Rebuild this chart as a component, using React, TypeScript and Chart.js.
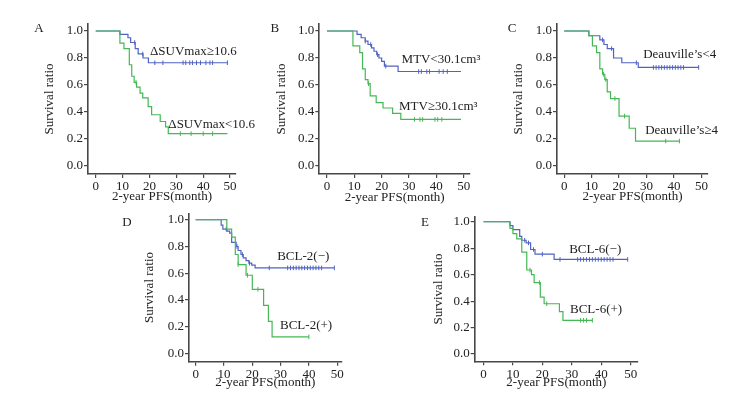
import React, { useEffect, useRef } from 'react';
import { Chart, registerables } from 'chart.js';

Chart.register(...registerables);

const FONT = '"Liberation Serif", "Times New Roman", serif';
const BLUE = '#4f63c2';
const GREEN = '#44b855';
const AXIS = '#474747';
const TEXT = '#222222';

const X_TICKS = [0, 10, 20, 30, 40, 50];
const Y_TICKS = [0, 0.2, 0.4, 0.6, 0.8, 1.0];
const X_TITLE = '2-year PFS(month)';
const Y_TITLE = 'Survival ratio';

// Panel A
const aHighT = [0, 9, 12, 13, 14.7, 15.8, 17.6, 19.6, 49];
const aHighS = [1, 0.975, 0.95, 0.915, 0.87, 0.83, 0.8, 0.765, 0.765];
const aHighCensor = [14.5, 17.5, 22, 25, 32.5, 33.5, 35, 36, 37.5, 39, 41, 42.5, 43.5, 49];
const aLowT = [0, 9, 10.5, 12.5, 13.4, 14.3, 15.2, 16.5, 17.5, 19.5, 20.8, 24, 26, 27, 49];
const aLowS = [1, 0.91, 0.87, 0.75, 0.665, 0.62, 0.585, 0.54, 0.505, 0.44, 0.38, 0.33, 0.29, 0.24, 0.24];
const aLowCensor = [15, 31.5, 35.5, 40, 43.5];

// Panel B
const bLowT = [0, 11, 12.5, 14, 15, 16.3, 17.2, 18.2, 19, 20, 21, 26, 49];
const bLowS = [1, 0.975, 0.95, 0.925, 0.9, 0.875, 0.85, 0.825, 0.8, 0.775, 0.74, 0.7, 0.7];
const bLowCensor = [14, 16, 18.5, 21.5, 33.5, 34.5, 36.5, 37.5, 41, 42.5, 44];
const bHighT = [0, 9.5, 12, 13, 14, 15, 15.8, 18, 20.5, 24, 27, 49];
const bHighS = [1, 0.89, 0.84, 0.72, 0.64, 0.61, 0.52, 0.47, 0.43, 0.39, 0.345, 0.345];
const bHighCensor = [15.2, 32, 34, 35, 39.5, 40.5, 42];

// Panel C
const cLowT = [0, 9, 13, 14.5, 15.7, 18, 21, 27, 49];
const cLowS = [1, 0.965, 0.935, 0.9, 0.87, 0.8, 0.765, 0.73, 0.73];
const cLowCensor = [14, 17.3, 26.3, 32.5, 33.5, 34.5, 35.5, 36.5, 37.5, 38.5, 39.5, 40.5, 41.5, 42.5, 43.5, 49];
const cHighT = [0, 9, 10.3, 11.8, 13, 14, 14.8, 15.7, 16.9, 20, 23.7, 26, 42];
const cHighS = [1, 0.965, 0.89, 0.84, 0.72, 0.68, 0.64, 0.55, 0.5, 0.37, 0.28, 0.185, 0.185];
const cHighCensor = [14.3, 15.2, 18.5, 22, 37, 42];

// Panel D
const dNegT = [0, 9, 9.6, 11, 12, 12.7, 14.3, 15, 16, 16.8, 17.8, 18.8, 19.8, 21, 49];
const dNegS = [1, 0.96, 0.93, 0.915, 0.9, 0.83, 0.8, 0.77, 0.74, 0.715, 0.695, 0.675, 0.66, 0.64, 0.64];
const dNegCensor = [10.8, 14.6, 16.5, 19, 26, 32.5, 33.5, 34.5, 35.5, 36.5, 37.5, 38.5, 39.5, 40.5, 41.5, 42.5, 43.5, 44.5, 49];
const dPosT = [0, 11, 12.7, 14, 15, 17.8, 20, 24, 25.7, 27, 40];
const dPosS = [1, 0.93, 0.87, 0.74, 0.665, 0.585, 0.48, 0.36, 0.24, 0.125, 0.125];
const dPosCensor = [15, 18.3, 22, 40];

// Panel E
const eNegT = [0, 9, 10, 12.3, 13, 14.5, 16, 17.5, 24, 49];
const eNegS = [1, 0.97, 0.94, 0.89, 0.86, 0.84, 0.79, 0.755, 0.715, 0.715];
const eNegCensor = [14, 15.3, 17, 20, 26, 32, 33, 34, 35, 36, 37, 38, 39, 40, 41, 42, 43, 44, 49];
const ePosT = [0, 9, 10, 11.3, 13, 14.7, 16.3, 17.2, 19.3, 20.6, 25.8, 27, 37];
const ePosS = [1, 0.95, 0.91, 0.87, 0.77, 0.635, 0.6, 0.54, 0.43, 0.38, 0.32, 0.255, 0.255];
const ePosCensor = [15.8, 19, 21.5, 33, 34, 35, 37];

type Series = { t: number[]; s: number[]; censor: number[]; color: string };
type Label = { text: string; x: number; y: number };
type Panel = {
  xMin: number; xMax: number; yMin: number; yMax: number;
  pad: { left: number; right: number; top: number; bottom: number };
  yW: number; xH: number;
  series: Series[];
  labels: Label[];
};

const PANELS: Panel[] = [
  {
    xMin: -2.87, xMax: 52.2, yMin: -0.059, yMax: 1.052,
    pad: { left: 42.2, right: 520, top: 24, bottom: 191.2 }, yW: 45.8, xH: 30.8,
    series: [
      { t: aLowT, s: aLowS, censor: aLowCensor, color: GREEN },
      { t: aHighT, s: aHighS, censor: aHighCensor, color: BLUE },
    ],
    labels: [
      { text: 'ΔSUVmax≥10.6', x: 20.2, y: 0.85 },
      { text: 'ΔSUVmax<10.6', x: 27, y: 0.307 },
    ],
  },
  {
    xMin: -2.8, xMax: 52.3, yMin: -0.059, yMax: 1.052,
    pad: { left: 273.9, right: 286, top: 24, bottom: 190.2 }, yW: 45.4, xH: 31.8,
    series: [
      { t: bHighT, s: bHighS, censor: bHighCensor, color: GREEN },
      { t: bLowT, s: bLowS, censor: bLowCensor, color: BLUE },
    ],
    labels: [
      { text: 'MTV<30.1cm³', x: 27.3, y: 0.79 },
      { text: 'MTV≥30.1cm³', x: 26.3, y: 0.444 },
    ],
  },
  {
    xMin: -2.6, xMax: 52.4, yMin: -0.059, yMax: 1.052,
    pad: { left: 510.5, right: 48, top: 24, bottom: 191.2 }, yW: 46.5, xH: 30.8,
    series: [
      { t: cHighT, s: cHighS, censor: cHighCensor, color: GREEN },
      { t: cLowT, s: cLowS, censor: cLowCensor, color: BLUE },
    ],
    labels: [
      { text: 'Deauville’s<4', x: 28.8, y: 0.825 },
      { text: 'Deauville’s≥4', x: 29.5, y: 0.259 },
    ],
  },
  {
    xMin: -2.37, xMax: 51.6, yMin: -0.061, yMax: 1.048,
    pad: { left: 142.2, right: 414.3, top: 213.3, bottom: 5.5 }, yW: 46.8, xH: 28.8,
    series: [
      { t: dPosT, s: dPosS, censor: dPosCensor, color: GREEN },
      { t: dNegT, s: dNegS, censor: dNegCensor, color: BLUE },
    ],
    labels: [
      { text: 'BCL-2(−)', x: 28.8, y: 0.723 },
      { text: 'BCL-2(+)', x: 29.8, y: 0.208 },
    ],
  },
  {
    xMin: -2.99, xMax: 52.5, yMin: -0.055, yMax: 1.038,
    pad: { left: 430.5, right: 118, top: 216.7, bottom: 5.5 }, yW: 44.2, xH: 29.2,
    series: [
      { t: ePosT, s: ePosS, censor: ePosCensor, color: GREEN },
      { t: eNegT, s: eNegS, censor: eNegCensor, color: BLUE },
    ],
    labels: [
      { text: 'BCL-6(−)', x: 29.1, y: 0.786 },
      { text: 'BCL-6(+)', x: 29.4, y: 0.338 },
    ],
  },
];

const LETTERS = [
  { text: 'A', left: 34.3, top: 19.5 },
  { text: 'B', left: 270.6, top: 19.5 },
  { text: 'C', left: 507.7, top: 19.5 },
  { text: 'D', left: 122.3, top: 213.5 },
  { text: 'E', left: 421, top: 214 },
];

function survAt(t: number[], s: number[], x: number): number {
  let v = s[0];
  for (let i = 0; i < t.length; i++) if (t[i] <= x) v = s[i];
  return v;
}

const kmLabels = {
  id: 'kmLabels',
  afterDatasetsDraw(chart: any, _args: any, opts: any) {
    const ctx = chart.ctx;
    const xs = chart.scales.x;
    const ys = chart.scales.y;
    ctx.save();
    ctx.font = `13px ${FONT}`;
    ctx.fillStyle = TEXT;
    ctx.textAlign = 'left';
    ctx.textBaseline = 'middle';
    for (const l of (opts.labels || []) as Label[]) {
      ctx.fillText(l.text, xs.getPixelForValue(l.x), ys.getPixelForValue(l.y));
    }
    ctx.restore();
  },
};

function KMPanel({ p }: { p: Panel }) {
  const ref = useRef<HTMLCanvasElement | null>(null);
  useEffect(() => {
    if (!ref.current) return;
    const datasets: any[] = [];
    for (const s of p.series) {
      datasets.push({
        data: s.t.map((x, i) => ({ x, y: s.s[i] })),
        showLine: true,
        stepped: true,
        borderColor: s.color,
        borderWidth: 1.2,
        pointRadius: 0,
        fill: false,
      });
      datasets.push({
        data: s.censor.map((x) => ({ x, y: survAt(s.t, s.s, x) })),
        showLine: false,
        pointStyle: 'line',
        rotation: 90,
        pointRadius: 2.3,
        pointBorderWidth: 1,
        pointBorderColor: s.color,
        pointBackgroundColor: s.color,
      });
    }
    const tickFont = { family: FONT, size: 13, lineHeight: 1.2 };
    const chart = new Chart(ref.current, {
      type: 'scatter',
      data: { datasets },
      plugins: [kmLabels],
      options: {
        responsive: false,
        animation: false,
        events: [],
        devicePixelRatio: 1,
        layout: { padding: p.pad },
        plugins: {
          legend: { display: false },
          tooltip: { enabled: false },
          kmLabels: { labels: p.labels },
        } as any,
        scales: {
          x: {
            type: 'linear',
            min: p.xMin,
            max: p.xMax,
            afterBuildTicks: (sc: any) => { sc.ticks = X_TICKS.map((v) => ({ value: v })); },
            afterFit: (sc: any) => { sc.height = p.xH; },
            grid: { display: true, drawOnChartArea: false, drawTicks: true, tickLength: 4, color: AXIS, lineWidth: 1.2 },
            border: { display: true, color: AXIS, width: 1.6 },
            ticks: { color: TEXT, font: tickFont, padding: 1, maxRotation: 0, autoSkip: false, callback: (v: any) => String(v) },
            title: { display: true, text: X_TITLE, color: TEXT, font: tickFont, padding: 0 },
          },
          y: {
            type: 'linear',
            min: p.yMin,
            max: p.yMax,
            afterBuildTicks: (sc: any) => { sc.ticks = Y_TICKS.map((v) => ({ value: v })); },
            afterFit: (sc: any) => { sc.width = p.yW; },
            grid: { display: true, drawOnChartArea: false, drawTicks: true, tickLength: 4, color: AXIS, lineWidth: 1.2 },
            border: { display: true, color: AXIS, width: 1.6 },
            ticks: { color: TEXT, font: tickFont, padding: 1, autoSkip: false, callback: (v: any) => Number(v).toFixed(1) },
            title: { display: true, text: Y_TITLE, color: TEXT, font: tickFont, padding: 0 },
          },
        },
      } as any,
    });
    return () => chart.destroy();
  }, [p]);
  return (
    <canvas
      ref={ref}
      width={756}
      height={396}
      style={{ position: 'absolute', left: 0, top: 0, width: 756, height: 396 }}
    />
  );
}

export default function App() {
  return (
    <div style={{ position: 'absolute', left: 0, top: 0, width: 756, height: 396, background: '#ffffff', overflow: 'hidden' }}>
      {PANELS.map((p, i) => (
        <KMPanel key={i} p={p} />
      ))}
      {LETTERS.map((l) => (
        <div
          key={l.text}
          style={{ position: 'absolute', left: l.left, top: l.top, fontFamily: FONT, fontSize: 13, lineHeight: '15px', color: TEXT }}
        >
          {l.text}
        </div>
      ))}
    </div>
  );
}
